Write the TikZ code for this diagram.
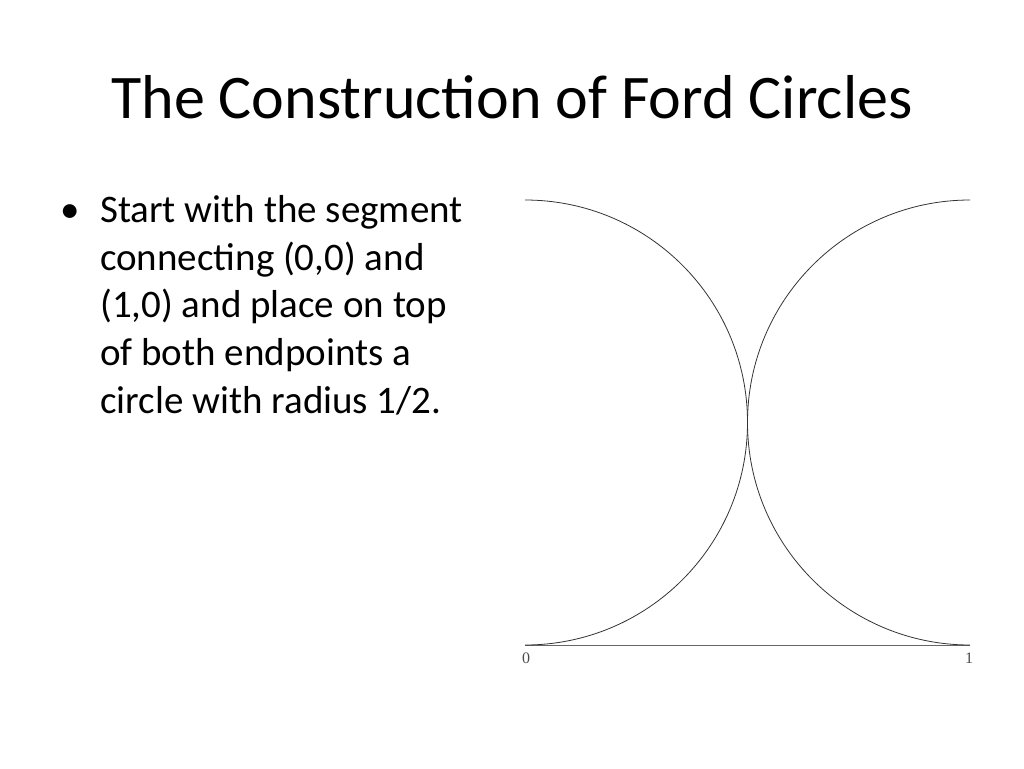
\documentclass[tikz,border=0pt]{standalone}
\usepackage{fontspec}
\setmainfont{Carlito}
\newfontfamily\labelfont{Liberation Serif}
\tikzset{
  fordarc/.style={draw=black!80, line width=0.8pt},
  bodyline/.style={anchor=base west, inner sep=0pt, font=\fontsize{39}{44}\selectfont},
  axislabel/.style={font=\labelfont\fontsize{16}{16}\selectfont, inner sep=0pt, text=black!70},
}
\begin{document}
\begin{tikzpicture}[x=1pt,y=-1pt]
    \useasboundingbox (0,0) rectangle (1024,768);
    \node (title) at (512,97) [font=\fontsize{62}{64}\selectfont] {The Construction of Ford Circles};
    \node (bullet) at (60,222) [bodyline] {\textbullet};
    \node (line1) at (100,222) [bodyline] {Start with the segment};
    \node (line2) at (100,270) [bodyline] {connecting (0,0) and};
    \node (line3) at (100,317) [bodyline] {(1,0) and place on top};
    \node (line4) at (100,365) [bodyline] {of both endpoints a};
    \node (line5) at (100,413) [bodyline] {circle with radius 1/2.};
    % segment and the two circles
    \coordinate (zero) at (525,645);
    \coordinate (one) at (970,645);
    \draw [black!60, line width=0.6pt] (zero) -- (one);
    \draw [fordarc] (zero) arc (90:-90:222.5);
    \draw [fordarc] (one) arc (90:270:222.5);
    \node (l0) [axislabel] at (526,658) {0};
    \node (l1) [axislabel] at (969,658) {1};
\end{tikzpicture}
\end{document}
